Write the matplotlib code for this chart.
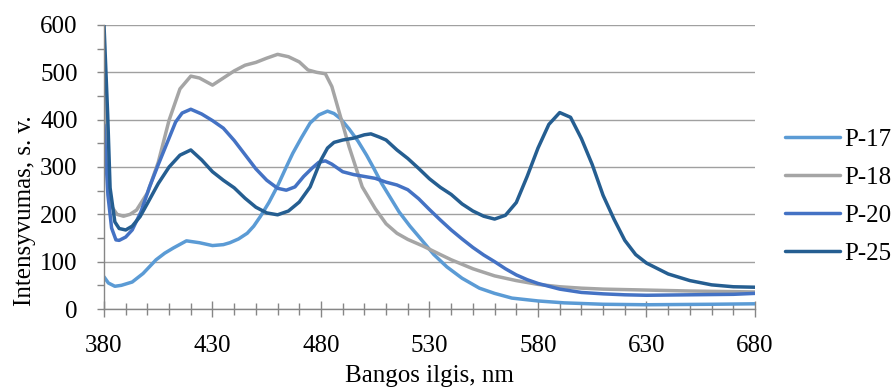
import matplotlib
matplotlib.use("Agg")
import matplotlib.pyplot as plt
from matplotlib.ticker import MultipleLocator

# P-17
x17 = [380, 382, 385, 388, 393, 398, 404, 408, 412, 418, 424, 430, 435, 438, 442, 446, 449,
       452, 456, 460, 464, 467, 471, 475, 479, 483, 486, 489, 493, 497, 501, 504, 508, 512,
       516, 521, 526, 532, 538, 545, 553, 560, 568, 580, 592, 610, 630, 660, 680]
y17 = [68, 55, 48, 50, 57, 75, 104, 118, 129, 144, 140, 134, 136, 140, 148, 160, 175,
       195, 225, 260, 300, 329, 362, 393, 410, 418, 413, 402, 380, 355, 325, 300, 265, 235,
       205, 175, 148, 115, 89, 65, 44, 33, 23, 17, 13, 10, 9, 10, 11]

# P-18
x18 = [380, 381, 382, 383, 386, 389, 392, 395, 400, 405, 410, 415, 420, 424, 430, 435, 440,
       445, 450, 455, 460, 465, 470, 474, 478, 482, 485, 489, 493, 499, 505, 510, 515, 520,
       527, 535, 540, 550, 560, 570, 580, 590, 600, 610, 630, 650, 680]
y18 = [480, 380, 280, 220, 200, 196, 200, 209, 245, 310, 399, 465, 492, 488, 473, 488, 503,
       515, 521, 530, 538, 533, 522, 505, 500, 497, 470, 406, 342, 258, 212, 180, 160, 147,
       133, 115, 104, 85, 70, 60, 52, 47, 44, 42, 40, 38, 36]

# P-20
x20 = [380, 381.8, 383.5, 385.5, 387, 390, 393, 397, 401, 405, 409, 413, 416, 420, 425, 430,
       435, 440, 445, 450, 455, 460, 464, 468, 472, 476, 479, 482, 485, 490, 495, 500, 505,
       510, 515, 520, 525, 530, 535, 540, 545, 550, 555, 560, 565, 570, 575, 580, 590, 600,
       610, 620, 630, 650, 670, 680]
y20 = [389, 241, 171, 146, 145, 152, 167, 205, 258, 305, 350, 395, 414, 422, 412, 398,
       382, 356, 326, 296, 272, 255, 251, 258, 280, 298, 310, 313, 306, 290, 284, 280, 276,
       268, 262, 252, 233, 210, 188, 167, 148, 130, 114, 100, 85, 72, 62, 54, 42, 35,
       32, 30, 29, 30, 31, 33]

# P-25
x25 = [380, 381.7, 382.8, 385, 387, 390, 393, 396.6, 400, 405, 410, 415, 420, 425, 430, 435,
       440, 445, 450, 455, 460, 465, 470, 475, 480, 483, 486, 490, 495, 500, 503, 507, 510,
       515, 520, 525, 530, 535, 540, 545, 550, 555, 560, 565, 570, 575, 580, 585, 590, 595,
       600, 605, 610, 615, 620, 625, 630, 640, 650, 660, 670, 680]
y25 = [600, 410, 256, 184, 170, 167, 175, 195, 223, 265, 300, 325, 336, 315, 290, 272,
       256, 234, 215, 203, 199, 207, 226, 258, 315, 340, 352, 357, 361, 368, 370, 363, 357,
       336, 318, 297, 275, 257, 242, 222, 207, 196, 190, 198, 225, 280, 340, 390, 415, 405,
       360, 305, 240, 190, 145, 115, 97, 74, 60, 51, 47, 46]

series = [("P-17", x17, y17, "#5B9BD5"),
          ("P-18", x18, y18, "#A5A5A5"),
          ("P-20", x20, y20, "#4472C4"),
          ("P-25", x25, y25, "#255E91")]

x_ticks = list(range(380, 681, 50))

plt.rcParams["font.family"] = ["Liberation Serif", "DejaVu Serif"]
plt.rcParams["font.size"] = 18

fig = plt.figure(figsize=(8.94, 3.89), dpi=100)
ax = fig.add_axes([104/894, 1 - 309/389, (755-104)/894, (309-25)/389])

for name, xs, ys, c in series:
    ax.plot(xs, ys, color=c, lw=2.5, label=name, solid_joinstyle="round", solid_capstyle="round")

ax.set_xlim(380, 680)
ax.set_ylim(0, 600)
ax.set_xticks(x_ticks)
ax.set_xticks(list(range(380, 681, 10)), minor=True)
ax.yaxis.set_major_locator(MultipleLocator(100))
ax.yaxis.set_minor_locator(MultipleLocator(50))

ax.grid(axis="y", which="major", color="#A0A0A0", lw=1)
ax.set_axisbelow(True)
for s in ["top", "right"]:
    ax.spines[s].set_visible(False)
for s in ["left", "bottom"]:
    ax.spines[s].set_color("#868686")
    ax.spines[s].set_linewidth(1)

ax.tick_params(axis="x", which="major", direction="inout", length=11, width=1, color="#868686", pad=13)
ax.tick_params(axis="x", which="minor", direction="inout", length=8, width=1, color="#868686")
ax.tick_params(axis="y", which="both", direction="out", length=5, width=1, color="#868686", pad=14)

ax.set_xlabel("Bangos ilgis, nm", labelpad=6)
ax.set_ylabel("Intensyvumas, s. v.")
ax.yaxis.set_label_coords(-0.105, 0.345)

fig.legend(loc="center left", bbox_to_anchor=(785/894, 0.495), frameon=False,
           handlelength=2.2, handletextpad=0.15, labelspacing=0.62, borderpad=0, borderaxespad=0)

fig.savefig("out.png", dpi=100)
